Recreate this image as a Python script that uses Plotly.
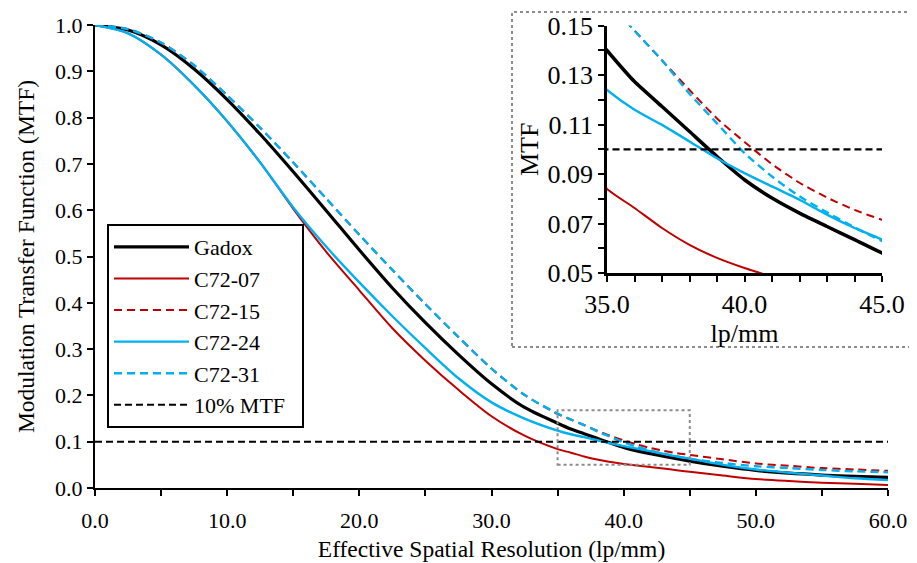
import plotly.graph_objects as go

# ---- data ----
x_lpmm = [0, 2.5, 5, 7.5, 10, 12.5, 15, 17.5, 20, 22.5, 25, 27.5, 30, 32.5, 35,
          36, 37, 38, 39, 40, 41, 42, 43, 44, 45, 47.5, 50, 52.5, 55, 57.5, 60]

gadox = [1.0, 0.989, 0.957, 0.905, 0.839, 0.764, 0.683, 0.599, 0.514, 0.432, 0.357,
         0.288, 0.225, 0.174, 0.140, 0.1274, 0.1173, 0.1072, 0.0971, 0.0877, 0.0803,
         0.0742, 0.0688, 0.0635, 0.0581, 0.047, 0.038, 0.032, 0.028, 0.025, 0.023]

c72_07 = [1.0, 0.982, 0.936, 0.870, 0.792, 0.703, 0.603, 0.510, 0.427, 0.345, 0.275,
          0.212, 0.155, 0.113, 0.084, 0.0763, 0.0682, 0.0614, 0.0561, 0.052, 0.0485,
          0.0452, 0.042, 0.0385, 0.035, 0.027, 0.0194, 0.015, 0.0115, 0.009, 0.0065]

c72_15 = [1.0, 0.991, 0.962, 0.913, 0.848, 0.778, 0.703, 0.625, 0.547, 0.471, 0.397,
          0.326, 0.258, 0.201, 0.160, 0.148, 0.136, 0.124, 0.1125, 0.103, 0.094,
          0.0865, 0.0805, 0.0755, 0.0715, 0.062, 0.053, 0.048, 0.043, 0.040, 0.037]

c72_24 = [1.0, 0.982, 0.936, 0.870, 0.792, 0.703, 0.606, 0.521, 0.444, 0.371, 0.302,
          0.237, 0.185, 0.150, 0.124, 0.116, 0.1099, 0.1032, 0.0964, 0.0904, 0.085,
          0.0796, 0.0736, 0.0682, 0.0635, 0.050, 0.040, 0.033, 0.027, 0.021, 0.017]

c72_31 = [1.0, 0.991, 0.962, 0.913, 0.848, 0.778, 0.703, 0.625, 0.547, 0.471, 0.397,
          0.326, 0.258, 0.201, 0.161, 0.148, 0.136, 0.1225, 0.1105, 0.0985, 0.089,
          0.081, 0.0745, 0.0685, 0.063, 0.054, 0.047, 0.043, 0.039, 0.036, 0.034]

mtf_x = [0, 60]
mtf_10 = [0.1, 0.1]

series_names = ["Gadox", "C72-07", "C72-15", "C72-24", "C72-31"]
series_vals = [gadox, c72_07, c72_15, c72_24, c72_31]

RED = "#C00000"
BLUE = "#00B0F0"
styles = [
    dict(color="black", width=3.2, dash="solid"),
    dict(color=RED, width=2, dash="solid"),
    dict(color=RED, width=2, dash="8px,5px"),
    dict(color=BLUE, width=2.4, dash="solid"),
    dict(color=BLUE, width=2.4, dash="8px,5px"),
]

FONT = "Liberation Serif, Times New Roman, serif"
PAD = "\u00a0\u00a0"

fig = go.Figure()

for name, vals, st in zip(series_names, series_vals, styles):
    fig.add_trace(go.Scatter(x=x_lpmm, y=vals, mode="lines", name=name + PAD,
                             line=dict(shape="spline", smoothing=0.8, **st)))
fig.add_trace(go.Scatter(x=mtf_x, y=mtf_10, mode="lines", name="10% MTF" + PAD,
                         line=dict(color="black", width=2, dash="7px,4px")))

# inset copies
for name, vals, st in zip(series_names, series_vals, styles):
    st2 = dict(st)
    if name == "Gadox":
        st2["width"] = 3.5
    fig.add_trace(go.Scatter(x=x_lpmm, y=vals, mode="lines", name=name, showlegend=False,
                             xaxis="x2", yaxis="y2",
                             line=dict(shape="spline", smoothing=0.6, **st2)))
fig.add_trace(go.Scatter(x=mtf_x, y=mtf_10, mode="lines", name="10% MTF", showlegend=False,
                         xaxis="x2", yaxis="y2",
                         line=dict(color="black", width=2.2, dash="7px,4px")))

# page offset of the figure (body margin) = 8px
OFF = 8
# plot area in page px: x 95..888, y 25..488
PX0, PX1, PY0, PY1 = 95, 888, 25, 488
W, H = 917 - OFF, 563 - OFF
L, T = PX0 - OFF, PY0 - OFF
R, B = 917 - PX1, 563 - PY1
pw, ph = PX1 - PX0, PY1 - PY0


def px(xp):
    return (xp - PX0) / pw


def py(yp):
    return (PY1 - yp) / ph


fig.update_layout(
    width=W, height=H,
    margin=dict(l=L, r=R, t=T, b=B, autoexpand=False),
    paper_bgcolor="white", plot_bgcolor="white",
    font=dict(family=FONT, size=22, color="black"),
    showlegend=True,
    legend=dict(x=px(107), y=py(224), xanchor="left", yanchor="top",
                bgcolor="white", bordercolor="black", borderwidth=2,
                font=dict(family=FONT, size=22), itemwidth=75,
                tracegroupgap=0),
    xaxis=dict(range=[0, 60], dtick=10, tick0=0, tickformat=".1f",
               showline=True, linecolor="black", linewidth=2,
               ticks="outside", ticklen=6, tickwidth=2, tickcolor="black",
               minor=dict(dtick=5, ticks="outside", ticklen=6, tickwidth=2, tickcolor="black"),
               showgrid=False, zeroline=False, ticklabelstandoff=6,
               title=dict(text="Effective Spatial Resolution (lp/mm)", font=dict(size=23.5), standoff=8),
               tickfont=dict(size=22)),
    yaxis=dict(range=[0, 1.0], dtick=0.1, tick0=0, tickformat=".1f",
               showline=True, linecolor="black", linewidth=2,
               ticks="outside", ticklen=6, tickwidth=2, tickcolor="black",
               showgrid=False, zeroline=False,
               title=dict(text="Modulation Transfer Function (MTF)", font=dict(size=23.5), standoff=14),
               tickfont=dict(size=22)),
    xaxis2=dict(domain=[px(607), px(882)], anchor="y2", range=[35, 45], dtick=5, tick0=35,
                tickformat=".1f", showline=True, linecolor="black", linewidth=2.5,
                ticks="outside", ticklen=6, tickwidth=2, tickcolor="black",
                minor=dict(dtick=1, ticks="outside", ticklen=6, tickwidth=2, tickcolor="black"),
                showgrid=False, zeroline=False,
                title=dict(text="lp/mm", font=dict(size=26), standoff=0),
                tickfont=dict(size=26)),
    yaxis2=dict(domain=[py(273), py(25.7)], anchor="x2", range=[0.05, 0.15], dtick=0.02,
                tick0=0.05, tickformat=".2f", showline=True, linecolor="black", linewidth=2.5,
                ticks="outside", ticklen=6, tickwidth=2, tickcolor="black",
                minor=dict(dtick=0.01, ticks="outside", ticklen=6, tickwidth=2, tickcolor="black"),
                showgrid=False, zeroline=False,
                title=dict(text="MTF", font=dict(size=26), standoff=2),
                tickfont=dict(size=26)),
    shapes=[
        dict(type="rect", xref="paper", yref="paper",
             x0=px(512), x1=px(914), y0=py(347), y1=py(12),
             line=dict(color="#8c8c8c", width=2, dash="dot"), layer="below"),
        dict(type="rect", xref="x", yref="y", x0=35, x1=45, y0=0.05, y1=0.168,
             line=dict(color="#8c8c8c", width=2, dash="dot")),
    ],
)

fig.write_html("out.html")
